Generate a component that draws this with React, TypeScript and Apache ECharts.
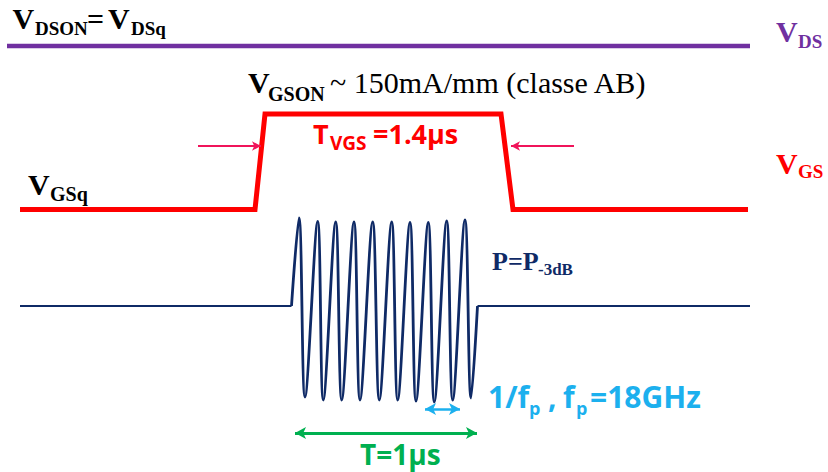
import React, { useEffect, useRef } from "react";
import * as echarts from "echarts";

// ---- Data (diagram coordinates, pixel-like units) ----
const vdsX = [7, 750];
const vdsY = [46, 46];

const vgsX = [20, 255, 265, 501, 513, 748];
const vgsY = [209.5, 209.5, 114, 114, 209.5, 209.5];

const rfLeftX = [20, 291.5];
const rfLeftY = [306, 306];
const rfPeakX = [299, 317.7, 335.7, 354, 372.7, 391.7, 410, 428.3, 446.7, 465];
const rfPeakY = [218, 221.5, 222, 222, 222, 222, 222.5, 222.5, 221, 220];
const rfTroughX = [305, 323.3, 341.7, 360, 379.3, 397.7, 416, 434.3, 452.7, 471];
const rfTroughY = [397, 400, 400, 400, 400, 400, 401, 402, 400, 398];
const rfRightX = [477.5, 750];
const rfRightY = [306, 306];

// arrows: [x1, y1, x2, y2]
const pulseArrows = [
  [198, 146, 261, 146],
  [574, 146, 511, 146],
];
const periodArrow = [295, 433, 477, 433];
const rfPeriodArrow = [425, 409, 460, 409];

const C_PURPLE = "#7030a0";
const C_RED = "#ff0000";
const C_NAVY = "#0f2a66";
const C_ARROW = "#f0145a";
const C_GREEN = "#00b050";
const C_CYAN = "#1cb0ee";

const SERIF = "'Liberation Serif', 'Times New Roman', serif";
const SANS = "'Open Sans', 'Noto Sans', sans-serif";

type Piece = [number, number, string, number, string, string, string];
// x, baseline, text, size, weight, family, color
const labels: Piece[] = [
  [12.5, 28.5, "V", 30, "bold", SERIF, "#000"],
  [35, 35, "DSON", 19, "bold", SERIF, "#000"],
  [87, 28.5, "=", 30, "bold", SERIF, "#000"],
  [108, 28.5, "V", 30, "bold", SERIF, "#000"],
  [131, 35, "DSq", 19, "bold", SERIF, "#000"],

  [248, 93, "V", 30, "bold", SERIF, "#000"],
  [268, 101, "GSON", 20, "bold", SERIF, "#000"],
  [330, 93, "~ 150mA/mm (classe AB)", 30, "normal", SERIF, "#000"],

  [313, 144, "T", 27, "bold", SANS, C_RED],
  [330, 150, "VGS", 19, "bold", SANS, C_RED],
  [373, 144, "=1.4μs", 27, "bold", SANS, C_RED],

  [28, 195, "V", 30, "bold", SERIF, "#000"],
  [50, 201, "GSq", 20, "bold", SERIF, "#000"],

  [776, 41.7, "V", 30, "bold", SERIF, C_PURPLE],
  [798, 48.3, "DS", 19, "bold", SERIF, C_PURPLE],
  [776, 173.3, "V", 30, "bold", SERIF, C_RED],
  [798, 178.3, "GS", 19, "bold", SERIF, C_RED],

  [492, 270, "P=P", 26, "bold", SERIF, C_NAVY],
  [538, 275, "-3dB", 17, "bold", SERIF, C_NAVY],

  [488, 408, "1/f", 30, "bold", SANS, C_CYAN],
  [529, 415, "p", 18, "bold", SANS, C_CYAN],
  [548, 408, ",", 30, "bold", SANS, C_CYAN],
  [563, 408, "f", 30, "bold", SANS, C_CYAN],
  [576, 415, "p", 18, "bold", SANS, C_CYAN],
  [590, 408, "=18GHz", 30, "bold", SANS, C_CYAN],

  [360, 465, "T=1μs", 28, "bold", SANS, C_GREEN],
];

const zip = (xs: number[], ys: number[]) => xs.map((x, i) => [x, ys[i]]);

function burstData() {
  const pts: number[][] = [[rfLeftX[1], rfLeftY[1]]];
  for (let i = 0; i < rfPeakX.length; i++) {
    pts.push([rfPeakX[i], rfPeakY[i]]);
    pts.push([rfTroughX[i], rfTroughY[i]]);
  }
  pts.push([rfRightX[0], rfRightY[0]]);
  return pts;
}

export default function App() {
  const ref = useRef<HTMLDivElement>(null);
  useEffect(() => {
    document.body.style.margin = "0";
    if (!ref.current) return;
    const chart = echarts.init(ref.current, undefined, { renderer: "svg" });

    const graphics = labels.map(([x, base, text, size, weight, family, color]) => {
      const k = family === SERIF ? 0.3375 : 0.388;
      return {
        type: "text",
        x,
        y: base - k * size,
        silent: true,
        style: {
          text,
          fill: color,
          font: `${weight} ${size}px ${family}`,
          align: "left",
          verticalAlign: "middle",
        },
      };
    });

    const arrowLine = (a: number[], color: string, width: number) => [
      { coord: [a[0], a[1]], lineStyle: { color, width, type: "solid" }, itemStyle: { color } },
      { coord: [a[2], a[3]] },
    ];

    chart.setOption({
      animation: false,
      backgroundColor: "#ffffff",
      grid: { left: 0, right: 0, top: 0, bottom: 0 },
      xAxis: { type: "value", min: 0, max: 828, show: false },
      yAxis: { type: "value", min: 0, max: 472, inverse: true, show: false },
      graphic: graphics,
      series: [
        {
          name: "VDS",
          type: "line",
          data: zip(vdsX, vdsY),
          symbol: "none",
          lineStyle: { color: C_PURPLE, width: 4.5 },
          silent: true,
        },
        {
          name: "VGS",
          type: "line",
          data: zip(vgsX, vgsY),
          symbol: "none",
          lineStyle: { color: C_RED, width: 5, join: "miter" },
          silent: true,
          markLine: {
            silent: true,
            animation: false,
            symbol: ["none", "arrow"],
            symbolSize: [7, 9],
            label: { show: false },
            emphasis: { disabled: true },
            data: pulseArrows.map((a) => arrowLine(a, C_ARROW, 1.8)),
          },
        },
        {
          name: "RF left",
          type: "line",
          data: zip(rfLeftX, rfLeftY),
          symbol: "none",
          lineStyle: { color: C_NAVY, width: 2 },
          silent: true,
          markLine: {
            silent: true,
            animation: false,
            symbol: ["arrow", "arrow"],
            symbolSize: [9, 11],
            label: { show: false },
            emphasis: { disabled: true },
            data: [
              arrowLine(periodArrow, C_GREEN, 3),
              arrowLine(rfPeriodArrow, C_CYAN, 2.5),
            ],
          },
        },
        {
          name: "RF burst",
          type: "line",
          data: burstData(),
          symbol: "none",
          smooth: 0.35,
          lineStyle: { color: C_NAVY, width: 2.8 },
          silent: true,
        },
        {
          name: "RF right",
          type: "line",
          data: zip(rfRightX, rfRightY),
          symbol: "none",
          lineStyle: { color: C_NAVY, width: 2 },
          silent: true,
        },
      ],
    });
    return () => chart.dispose();
  }, []);
  return <div ref={ref} style={{ width: 828, height: 472 }} />;
}
